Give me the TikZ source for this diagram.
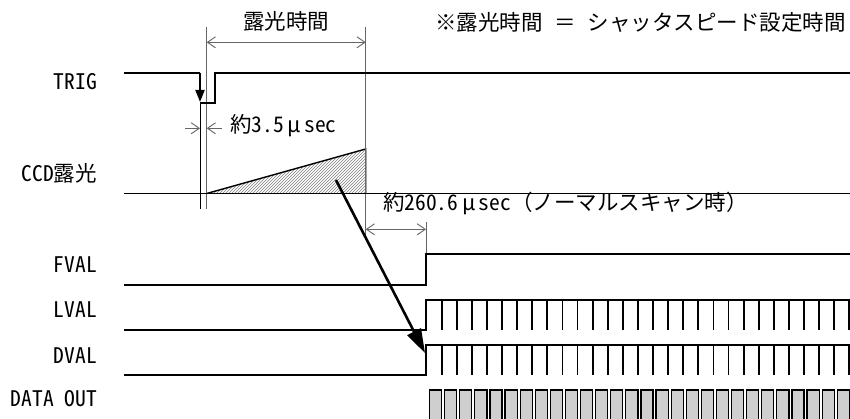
\documentclass[tikz,border=0pt]{standalone}
\usepackage{fontspec}
\setmainfont{Noto Sans CJK JP}
\newfontfamily\hw{Noto Sans CJK JP}[CharacterWidth=Half]
\usetikzlibrary{arrows.meta,patterns}
\newcommand\sigfont{\fontsize{21.5}{24}\selectfont}
\newcommand\mumark{\makebox[0.95em][l]{\,μ}}
\begin{document}
\begin{tikzpicture}[x=1pt,y=-1pt,
  sig/.style={line width=1.8pt, draw=black},
  dimln/.style={line width=0.9pt, draw=black!60},
  dimarr/.style={dimln, {Straight Barb[length=8pt,width=11pt]}-{Straight Barb[length=8pt,width=11pt]}},
  onearr/.style={dimln, -{Straight Barb[length=8pt,width=11pt]}},
  lbl/.style={inner sep=0pt, text height=0.88em, text depth=0.12em, font=\sigfont},
  databox/.style={draw=black, line width=1.2pt, fill=black!19},
]
\useasboundingbox (0,0) rectangle (850,419);
\fill[white] (0,0) rectangle (850,419);
\clip (0,0) rectangle (850,419);

% labels
\node[lbl, anchor=east] (lTRIG) at (97,86) {\hw TRIG};
\node[lbl, anchor=east] (lCCD) at (97,178) {{\hw CCD}露光};
\node[lbl, anchor=east] (lFVAL) at (97,269) {\hw FVAL};
\node[lbl, anchor=east] (lLVAL) at (97,314) {\hw LVAL};
\node[lbl, anchor=east] (lDVAL) at (97,360) {\hw DVAL};
\node[lbl, anchor=east] (lDATA) at (97,403) {\hw DATA OUT};

% texts
\node[lbl] (tExp) at (286,26) {露光時間};
\node[lbl, anchor=east] (tNote) at (846,27) {※露光時間\hspace{0.55em}＝\hspace{0.55em}シャッタスピード設定時間};
\node[lbl, anchor=west] (t35) at (230,129) {約{\hw 3.5}\mumark{\hw sec}};
\node[lbl, anchor=west] (t260) at (383,207) {約{\hw 260.6}\mumark{\hw sec}（ノーマルスキャン時）};

% key coordinates
\coordinate (tf) at (200,72.7);
\coordinate (tl) at (200,103.3);
\coordinate (es) at (206.7,193.5);
\coordinate (ee) at (365.7,193.5);
\coordinate (ep) at (365.7,149);
\coordinate (rx) at (426,285);

% CCD exposure triangle
\fill[pattern=north east lines, pattern color=black!50] (es) -- (ep) -- (ee) -- cycle;
\draw[sig, line width=1.4pt] (es) -- (ep) -- (ee);

% extension lines
\draw[dimln] (206.7,27) -- (206.7,209);
\draw[dimln] (365.7,27) -- (365.7,240);
\draw[line width=0.9pt] (tl) -- (200,209);
\draw[dimln] (426,222) -- (426,254);

% dimensions
\coordinate (d1a) at (206.7,42.3);
\coordinate (d1b) at (365.7,42.3);
\draw[dimarr] (d1a) -- (d1b);
\coordinate (d2a) at (185,128.3);
\coordinate (d2b) at (200,128.3);
\coordinate (d2c) at (221.7,128.3);
\coordinate (d2d) at (206.7,128.3);
\draw[onearr] (d2a) -- (d2b);
\draw[onearr] (d2c) -- (d2d);
\coordinate (d3a) at (365.7,229.3);
\coordinate (d3b) at (426,229.3);
\draw[dimarr] (d3a) -- (d3b);

% TRIG
\draw[sig] (124,72.7) -- (tf);
\draw[sig, -{Triangle[length=12pt,width=9pt]}] (tf) -- (200,102);
\draw[sig] (tl) -- (215,103.3) -- (215,72.7) -- (850,72.7);

% CCD baseline
\draw[sig] (124,193.5) -- (850,193.5);

% FVAL
\draw[sig] (124,285) -- (rx) -- (426,254) -- (850,254);
% LVAL
\draw[sig] (124,330) -- (426,330) -- (426,300) -- (850,300);
% DVAL
\draw[sig] (124,375) -- (426,375) -- (426,345) -- (850,345);

\foreach \k in {0,...,27}{
  \pgfmathsetmacro\px{441.6+15.1*\k}
  \draw[sig] (\px,300) -- (\px,330);
  \draw[sig] (\px,345) -- (\px,375);
}
% DATA OUT
\draw[databox] (429.5,390) rectangle (441.6,425);
\foreach \k in {1,...,27}{
  \pgfmathsetmacro\pa{441.6+15.1*(\k-1)+3}
  \pgfmathsetmacro\pb{441.6+15.1*\k}
  \draw[databox] (\pa,390) rectangle (\pb,425);
}

% big arrow
\coordinate (ba) at (336,180);
\coordinate (bb) at (425,353);
\draw[line width=2.6pt, -{Triangle[length=24pt,width=15pt]}] (ba) -- (bb);
\end{tikzpicture}
\end{document}
